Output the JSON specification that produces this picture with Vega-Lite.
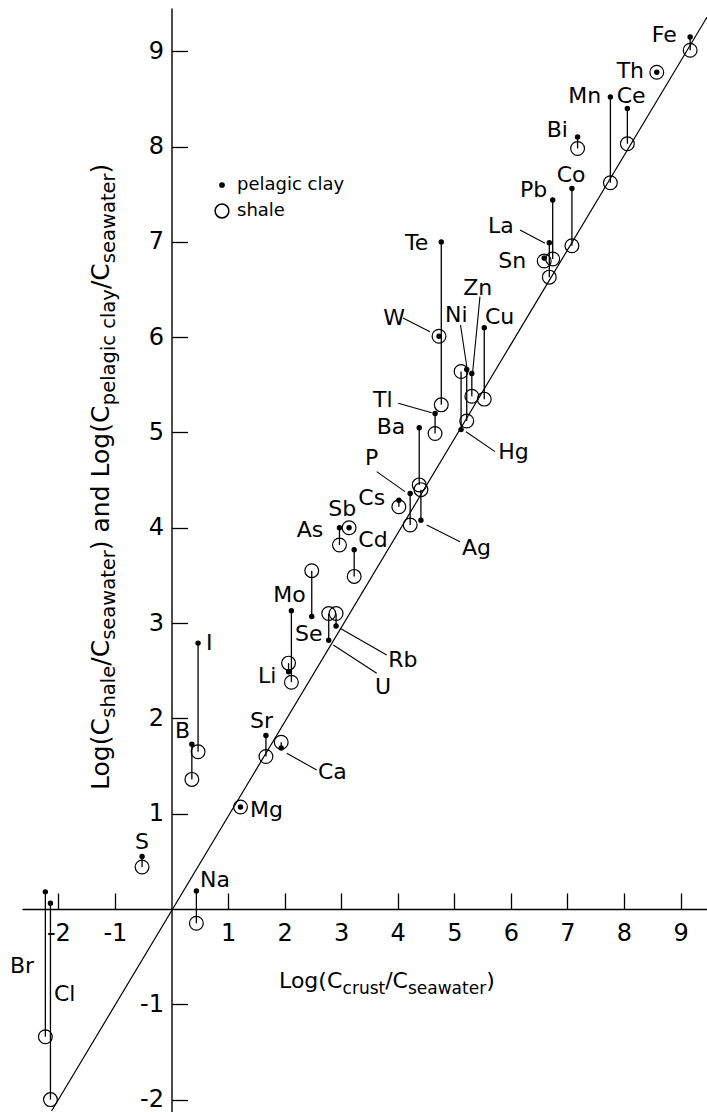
{
  "$schema": "https://vega.github.io/schema/vega-lite/v6.json",
  "width": 685,
  "height": 1104,
  "autosize": {"type": "none"},
  "padding": {"left": 22, "top": 8, "right": 0, "bottom": 0},
  "background": "white",
  "config": {
    "view": {"stroke": null},
    "font": "DejaVu Sans",
    "axis": {
      "grid": false,
      "domainColor": "black",
      "domainWidth": 1.4,
      "tickColor": "black",
      "tickWidth": 1.3,
      "tickSize": -16,
      "labelFontSize": 24,
      "labelFont": "DejaVu Sans",
      "labelColor": "black",
      "labelFlush": false,
      "labelOverlap": false
    },
    "legend": {
      "orient": "none",
      "legendX": 191,
      "legendY": 168,
      "labelFontSize": 18,
      "labelFont": "DejaVu Sans",
      "labelColor": "black",
      "rowPadding": 7,
      "labelOffset": 6
    }
  },
  "datasets": {
    "elements": [
      {"el": "Fe", "x": 9.17, "pelagic clay": 9.15, "shale": 9.01},
      {"el": "Th", "x": 8.58, "pelagic clay": 8.78, "shale": 8.78},
      {"el": "Mn", "x": 7.76, "pelagic clay": 8.52, "shale": 7.62},
      {"el": "Ce", "x": 8.06, "pelagic clay": 8.40, "shale": 8.03},
      {"el": "Bi", "x": 7.18, "pelagic clay": 8.10, "shale": 7.98},
      {"el": "Co", "x": 7.08, "pelagic clay": 7.56, "shale": 6.96},
      {"el": "Pb", "x": 6.74, "pelagic clay": 7.44, "shale": 6.82},
      {"el": "La", "x": 6.68, "pelagic clay": 6.99, "shale": 6.63},
      {"el": "Sn", "x": 6.59, "pelagic clay": 6.83, "shale": 6.80},
      {"el": "Te", "x": 4.77, "pelagic clay": 7.00, "shale": 5.29},
      {"el": "W", "x": 4.73, "pelagic clay": 6.01, "shale": 6.01},
      {"el": "Tl", "x": 4.66, "pelagic clay": 5.20, "shale": 4.99},
      {"el": "Cu", "x": 5.53, "pelagic clay": 6.10, "shale": 5.35},
      {"el": "Zn", "x": 5.31, "pelagic clay": 5.62, "shale": 5.38},
      {"el": "Ni", "x": 5.22, "pelagic clay": 5.66, "shale": 5.12},
      {"el": "Hg", "x": 5.12, "pelagic clay": 5.03, "shale": 5.64},
      {"el": "Ba", "x": 4.38, "pelagic clay": 5.05, "shale": 4.45},
      {"el": "P", "x": 4.22, "pelagic clay": 4.36, "shale": 4.03},
      {"el": "Ag", "x": 4.41, "pelagic clay": 4.08, "shale": 4.40},
      {"el": "Cs", "x": 4.02, "pelagic clay": 4.29, "shale": 4.22},
      {"el": "Sb", "x": 3.14, "pelagic clay": 4.00, "shale": 4.00},
      {"el": "As", "x": 2.97, "pelagic clay": 4.00, "shale": 3.82},
      {"el": "Cd", "x": 3.23, "pelagic clay": 3.77, "shale": 3.49},
      {"el": "Se", "x": 2.48, "pelagic clay": 3.07, "shale": 3.55},
      {"el": "Rb", "x": 2.91, "pelagic clay": 2.97, "shale": 3.10},
      {"el": "U", "x": 2.78, "pelagic clay": 2.82, "shale": 3.10},
      {"el": "Mo", "x": 2.12, "pelagic clay": 3.13, "shale": 2.38},
      {"el": "Li", "x": 2.07, "pelagic clay": 2.49, "shale": 2.58},
      {"el": "I", "x": 0.47, "pelagic clay": 2.79, "shale": 1.65},
      {"el": "B", "x": 0.36, "pelagic clay": 1.73, "shale": 1.36},
      {"el": "Sr", "x": 1.67, "pelagic clay": 1.82, "shale": 1.60},
      {"el": "Ca", "x": 1.94, "pelagic clay": 1.69, "shale": 1.75},
      {"el": "Mg", "x": 1.22, "pelagic clay": 1.07, "shale": 1.07},
      {"el": "Na", "x": 0.44, "pelagic clay": 0.19, "shale": -0.15},
      {"el": "S", "x": -0.52, "pelagic clay": 0.55, "shale": 0.44},
      {"el": "Br", "x": -2.23, "pelagic clay": 0.18, "shale": -1.34},
      {"el": "Cl", "x": -2.14, "pelagic clay": 0.06, "shale": -2.00}
    ],
    "labels": [
      {"text": "Fe", "x": 8.49, "y": 9.171},
      {"text": "Th", "x": 7.871, "y": 8.793},
      {"text": "Mn", "x": 7.016, "y": 8.531},
      {"text": "Ce", "x": 7.871, "y": 8.531},
      {"text": "Bi", "x": 6.634, "y": 8.174},
      {"text": "Co", "x": 6.811, "y": 7.702},
      {"text": "Pb", "x": 6.162, "y": 7.545},
      {"text": "La", "x": 5.596, "y": 7.167},
      {"text": "Sn", "x": 5.778, "y": 6.8},
      {"text": "Te", "x": 4.128, "y": 6.988},
      {"text": "W", "x": 3.745, "y": 6.201},
      {"text": "Ni", "x": 4.836, "y": 6.233},
      {"text": "Zn", "x": 5.159, "y": 6.516},
      {"text": "Cu", "x": 5.543, "y": 6.212},
      {"text": "Tl", "x": 3.563, "y": 5.341},
      {"text": "Ba", "x": 3.628, "y": 5.058},
      {"text": "Hg", "x": 5.778, "y": 4.795},
      {"text": "P", "x": 3.421, "y": 4.732},
      {"text": "Cs", "x": 3.303, "y": 4.313},
      {"text": "Sb", "x": 2.772, "y": 4.197},
      {"text": "As", "x": 2.214, "y": 3.977},
      {"text": "Cd", "x": 3.303, "y": 3.872},
      {"text": "Ag", "x": 5.136, "y": 3.788},
      {"text": "Mo", "x": 1.8, "y": 3.295},
      {"text": "Se", "x": 2.184, "y": 2.886},
      {"text": "Rb", "x": 3.833, "y": 2.613},
      {"text": "U", "x": 3.598, "y": 2.329},
      {"text": "Li", "x": 1.529, "y": 2.445},
      {"text": "I", "x": 0.61, "y": 2.791},
      {"text": "B", "x": 0.062, "y": 1.868},
      {"text": "Sr", "x": 1.388, "y": 1.973},
      {"text": "Ca", "x": 2.59, "y": 1.438},
      {"text": "Mg", "x": 1.388, "y": 1.039},
      {"text": "Na", "x": 0.504, "y": 0.304},
      {"text": "S", "x": -0.645, "y": 0.703},
      {"text": "Br", "x": -2.855, "y": -0.598},
      {"text": "Cl", "x": -2.077, "y": -0.892}
    ],
    "leaders": [
      {"x": 4.093, "y": 6.202, "x2": 4.57, "y2": 6.058},
      {"x": 4.009, "y": 5.306, "x2": 4.6, "y2": 5.208},
      {"x": 5.11, "y": 6.128, "x2": 5.23, "y2": 5.656},
      {"x": 5.454, "y": 6.425, "x2": 5.325, "y2": 5.638},
      {"x": 5.207, "y": 5.008, "x2": 5.72, "y2": 4.799},
      {"x": 3.628, "y": 4.589, "x2": 4.128, "y2": 4.379},
      {"x": 4.512, "y": 4.029, "x2": 5.101, "y2": 3.854},
      {"x": 2.979, "y": 2.945, "x2": 3.805, "y2": 2.665},
      {"x": 2.861, "y": 2.77, "x2": 3.628, "y2": 2.473},
      {"x": 2.037, "y": 1.634, "x2": 2.567, "y2": 1.459},
      {"x": 6.162, "y": 7.125, "x2": 6.604, "y2": 6.985}
    ],
    "diag": [
      {"x": -2.12, "y": -2.12},
      {"x": 9.47, "y": 9.36}
    ],
    "xtitle": [
      {"text": "Log(C", "part": "main", "x": 1.901, "y": -0.829},
      {"text": "crust", "part": "sub", "x": 3.025, "y": -0.829},
      {"text": "/C", "part": "main", "x": 3.778, "y": -0.829},
      {"text": "seawater", "part": "sub", "x": 4.181, "y": -0.829},
      {"text": ")", "part": "main", "x": 5.564, "y": -0.829}
    ],
    "ytitle": [
      {"text": "Log(C", "part": "main", "x": -1.11, "y": 1.249},
      {"text": "shale", "part": "sub", "x": -1.11, "y": 2.007},
      {"text": "/C", "part": "main", "x": -1.11, "y": 2.552},
      {"text": "seawater", "part": "sub", "x": -1.11, "y": 2.824},
      {"text": ") and Log(C", "part": "main", "x": -1.11, "y": 3.765},
      {"text": "pelagic clay", "part": "sub", "x": -1.11, "y": 5.286},
      {"text": "/C", "part": "main", "x": -1.11, "y": 6.505},
      {"text": "seawater", "part": "sub", "x": -1.11, "y": 6.777},
      {"text": ")", "part": "main", "x": -1.11, "y": 7.718}
    ]
  },
  "layer": [
    {
      "data": {"name": "diag"},
      "mark": {"type": "line", "color": "black", "strokeWidth": 1.2},
      "encoding": {
        "x": {"field": "x", "type": "quantitative", "title": null,
          "scale": {"domain": [-2.643, 9.468], "nice": false, "zero": false},
          "axis": {"orient": "bottom", "offset": -203, "values": [-2, -1, 1, 2, 3, 4, 5, 6, 7, 8, 9],
            "format": "d", "labelExpr": "replace(datum.label, '\u2212', '-')", "title": null, "labelPadding": 28}},
        "y": {"field": "y", "type": "quantitative", "title": null,
          "scale": {"domain": [-2.13, 9.454], "nice": false, "zero": false},
          "axis": {"orient": "left", "offset": -149.5, "values": [-2, -1, 1, 2, 3, 4, 5, 6, 7, 8, 9],
            "format": "d", "labelExpr": "replace(datum.label, '\u2212', '-')", "title": null, "labelPadding": 24}}
      }
    },
    {
      "data": {"name": "elements"},
      "mark": {"type": "rule", "color": "black", "strokeWidth": 1.3},
      "encoding": {
        "x": {"field": "x", "type": "quantitative", "title": null},
        "y": {"field": "pelagic clay", "type": "quantitative", "title": null},
        "y2": {"field": "shale"}
      }
    },
    {
      "data": {"name": "leaders"},
      "mark": {"type": "rule", "color": "black", "strokeWidth": 1.1},
      "encoding": {
        "x": {"field": "x", "type": "quantitative", "title": null},
        "y": {"field": "y", "type": "quantitative", "title": null},
        "x2": {"field": "x2"},
        "y2": {"field": "y2"}
      }
    },
    {
      "data": {"name": "elements"},
      "transform": [{"fold": ["pelagic clay", "shale"], "as": ["kind", "value"]}],
      "mark": {"type": "point", "filled": true, "stroke": "black", "strokeWidth": 1.2, "opacity": 1},
      "encoding": {
        "x": {"field": "x", "type": "quantitative", "title": null},
        "y": {"field": "value", "type": "quantitative", "title": null},
        "size": {"field": "kind", "type": "nominal",
          "scale": {"domain": ["pelagic clay", "shale"], "range": [18, 190]},
          "legend": {"title": null, "encode": {"symbols": {"update": {"stroke": {"value": "black"}, "strokeWidth": {"value": 1.2}}}}}},
        "fill": {"field": "kind", "type": "nominal",
          "scale": {"domain": ["pelagic clay", "shale"], "range": ["black", "transparent"]},
          "legend": {"title": null, "encode": {"symbols": {"update": {"stroke": {"value": "black"}, "strokeWidth": {"value": 1.2}}}}}}
      }
    },
    {
      "data": {"name": "labels"},
      "mark": {"type": "text", "align": "left", "baseline": "middle", "fontSize": 22, "font": "DejaVu Sans", "color": "black"},
      "encoding": {
        "x": {"field": "x", "type": "quantitative", "title": null},
        "y": {"field": "y", "type": "quantitative", "title": null},
        "text": {"field": "text"}
      }
    },
    {
      "data": {"name": "xtitle"},
      "transform": [{"filter": "datum.part == 'main'"}],
      "mark": {"type": "text", "align": "left", "baseline": "alphabetic", "fontSize": 22, "font": "DejaVu Sans", "color": "black"},
      "encoding": {
        "x": {"field": "x", "type": "quantitative", "title": null},
        "y": {"field": "y", "type": "quantitative", "title": null},
        "text": {"field": "text"}
      }
    },
    {
      "data": {"name": "xtitle"},
      "transform": [{"filter": "datum.part == 'sub'"}],
      "mark": {"type": "text", "align": "left", "baseline": "alphabetic", "fontSize": 17, "dy": 6, "font": "DejaVu Sans", "color": "black"},
      "encoding": {
        "x": {"field": "x", "type": "quantitative", "title": null},
        "y": {"field": "y", "type": "quantitative", "title": null},
        "text": {"field": "text"}
      }
    },
    {
      "data": {"name": "ytitle"},
      "transform": [{"filter": "datum.part == 'main'"}],
      "mark": {"type": "text", "align": "left", "baseline": "alphabetic", "angle": 270, "fontSize": 25, "font": "DejaVu Sans", "color": "black"},
      "encoding": {
        "x": {"field": "x", "type": "quantitative", "title": null},
        "y": {"field": "y", "type": "quantitative", "title": null},
        "text": {"field": "text"}
      }
    },
    {
      "data": {"name": "ytitle"},
      "transform": [{"filter": "datum.part == 'sub'"}],
      "mark": {"type": "text", "align": "left", "baseline": "alphabetic", "angle": 270, "fontSize": 19.5, "dy": 6, "font": "DejaVu Sans", "color": "black"},
      "encoding": {
        "x": {"field": "x", "type": "quantitative", "title": null},
        "y": {"field": "y", "type": "quantitative", "title": null},
        "text": {"field": "text"}
      }
    }
  ]
}
